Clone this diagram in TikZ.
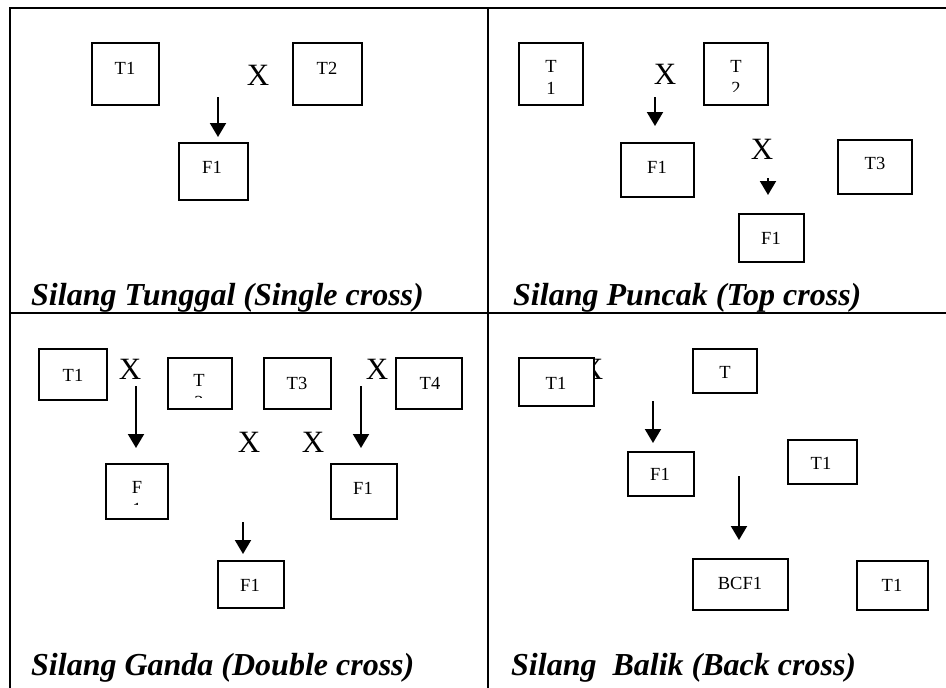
\documentclass[tikz,border=0pt]{standalone}
\usepackage{fontspec}
\setmainfont{Liberation Serif}
\usetikzlibrary{arrows.meta}

\begin{document}
\begin{tikzpicture}[x=1pt,y=-1pt,
  box/.style={draw,line width=1.3pt,fill=white,inner sep=0pt},
  lbl/.style={inner sep=0pt,font=\fontsize{18.5}{22}\selectfont},
  cross/.style={inner sep=0pt,font=\fontsize{31}{36}\selectfont},
  title/.style={inner sep=0pt,anchor=base west,font=\fontsize{32}{38}\selectfont\bfseries\itshape},
  frame/.style={line width=1.5pt},
  arr/.style={line width=2pt,-{Triangle[width=16pt,length=14pt]}}]
\useasboundingbox (0,0) rectangle (946,688);

% table grid
\coordinate (gTL) at (10,8);
\coordinate (gTR) at (946,8);
\coordinate (gBL) at (10,688);
\coordinate (gML) at (10,313);
\coordinate (gMR) at (946,313);
\coordinate (gVT) at (488,8);
\coordinate (gVB) at (488,688);
\draw[frame] (gBL) -- (gTL) -- (gTR);
\draw[frame] (gML) -- (gMR);
\draw[frame] (gVT) -- (gVB);

% ---------- single cross ----------
\node[box,minimum width=67,minimum height=62] (aT1) at (125.5,74) {};
\node[lbl] (aT1t) at (125,68) {T1};
\node[box,minimum width=69,minimum height=62] (aT2) at (327.5,74) {};
\node[lbl] (aT2t) at (327,68) {T2};
\node[cross] (aX) at (258,75) {X};
\node[box,minimum width=69,minimum height=57] (aF1) at (213.5,171.5) {};
\node[lbl] (aF1t) at (212,167) {F1};
\coordinate (aS) at (218,97);
\coordinate (aE) at (218,137);
\draw[arr] (aS) -- (aE);
\node[title] (aTitle) at (31,305) {Silang Tunggal (Single cross)};

% ---------- top cross ----------
\node[box,minimum width=64,minimum height=62] (bT1) at (551,74) {};
\begin{scope}
  \clip (519,43) rectangle (583,94);
  \node[lbl] (bT1a) at (551,66) {T};
  \node[lbl] (bT1b) at (551,88) {1};
\end{scope}
\node[cross] (bX1) at (665,74) {X};
\node[box,minimum width=64,minimum height=62] (bT2) at (736,74) {};
\begin{scope}
  \clip (704,43) rectangle (768,91);
  \node[lbl] (bT2a) at (736,66) {T};
  \node[lbl] (bT2b) at (736,88) {2};
\end{scope}
\coordinate (bS1) at (655,97);
\coordinate (bE1) at (655,126);
\draw[arr] (bS1) -- (bE1);
\node[box,minimum width=73,minimum height=54] (bF1) at (657.5,170) {};
\node[lbl] (bF1t) at (657,167) {F1};
\node[cross] (bX2) at (762,149) {X};
\coordinate (bS2) at (768,178);
\coordinate (bE2) at (768,195);
\draw[arr] (bS2) -- (bE2);
\node[box,minimum width=74,minimum height=54] (bT3) at (875,167) {};
\node[lbl] (bT3t) at (875,163) {T3};
\node[box,minimum width=65,minimum height=48] (bF2) at (771.5,238) {};
\node[lbl] (bF2t) at (771,238) {F1};
\node[title] (bTitle) at (513,305) {Silang Puncak (Top cross)};

% ---------- double cross ----------
\node[box,minimum width=68,minimum height=51] (cT1) at (73,374.5) {};
\node[lbl] (cT1t) at (73,375) {T1};
\node[cross] (cX1) at (130,369) {X};
\node[box,minimum width=64,minimum height=51] (cT2) at (200,383.5) {};
\begin{scope}
  \clip (168,358) rectangle (232,397);
  \node[lbl] (cT2a) at (199,380.5) {T};
  \node[lbl] (cT2b) at (199,402.5) {2};
\end{scope}
\node[box,minimum width=67,minimum height=51] (cT3) at (297.5,383.5) {};
\node[lbl] (cT3t) at (297,383) {T3};
\node[cross] (cX2) at (377,369) {X};
\node[box,minimum width=66,minimum height=51] (cT4) at (429,383.5) {};
\node[lbl] (cT4t) at (430,383) {T4};
\coordinate (cSL) at (136,386);
\coordinate (cEL) at (136,448);
\draw[arr] (cSL) -- (cEL);
\coordinate (cSR) at (361,386);
\coordinate (cER) at (361,448);
\draw[arr] (cSR) -- (cER);
\node[cross] (cX3) at (249,442) {X};
\node[cross] (cX4) at (313,442) {X};
\node[box,minimum width=62,minimum height=55] (cF1) at (137,491.5) {};
\begin{scope}
  \clip (106,464) rectangle (168,504);
  \node[lbl] (cF1a) at (137,487.5) {F};
  \node[lbl] (cF1b) at (137,509.5) {1};
\end{scope}
\node[box,minimum width=66,minimum height=55] (cF2) at (364,491.5) {};
\node[lbl] (cF2t) at (363,488) {F1};
\coordinate (cSB) at (243,522);
\coordinate (cEB) at (243,554);
\draw[arr] (cSB) -- (cEB);
\node[box,minimum width=66,minimum height=47] (cF3) at (251,584.5) {};
\node[lbl] (cF3t) at (250,585) {F1};
\node[title] (cTitle) at (31,675) {Silang Ganda (Double cross)};

% ---------- back cross ----------
\node[cross] (dX) at (592,369.5) {X};
\node[box,minimum width=75,minimum height=48] (dT1) at (556.5,382) {};
\node[lbl] (dT1t) at (556,383) {T1};
\node[box,minimum width=64,minimum height=44] (dT2) at (725,371) {};
\node[lbl] (dT2t) at (725,372) {T};
\coordinate (dS1) at (653,401);
\coordinate (dE1) at (653,443);
\draw[arr] (dS1) -- (dE1);
\node[box,minimum width=66,minimum height=44] (dF1) at (661,474) {};
\node[lbl] (dF1t) at (660,474) {F1};
\node[box,minimum width=69,minimum height=44] (dT3) at (822.5,462) {};
\node[lbl] (dT3t) at (821,463) {T1};
\coordinate (dS2) at (739,476);
\coordinate (dE2) at (739,540);
\draw[arr] (dS2) -- (dE2);
\node[box,minimum width=95,minimum height=51] (dBC) at (740.5,584.5) {};
\node[lbl] (dBCt) at (740,583) {BCF1};
\node[box,minimum width=71,minimum height=49] (dT4) at (892.5,585.5) {};
\node[lbl] (dT4t) at (892,585) {T1};
\node[title] (dTitle) at (511,675) {Silang\ \ Balik (Back cross)};
\end{tikzpicture}
\end{document}
